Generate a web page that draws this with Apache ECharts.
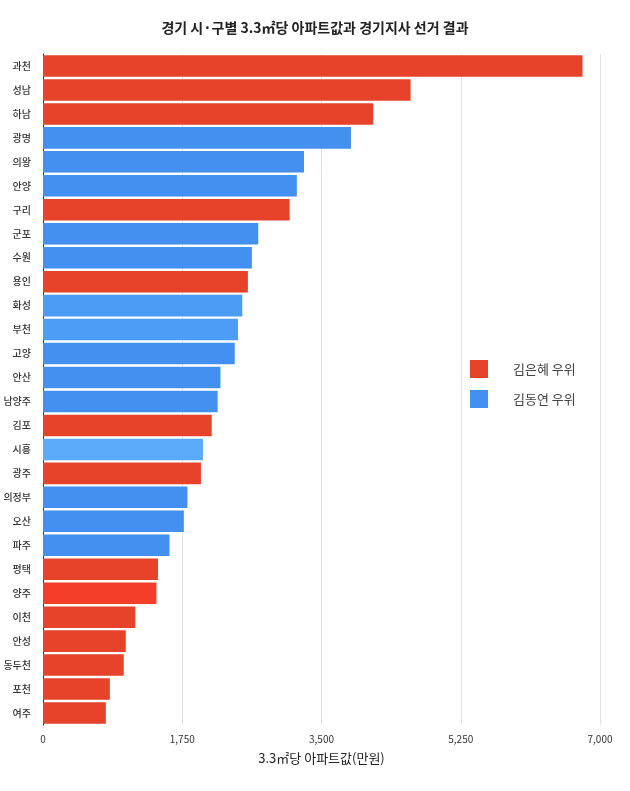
<!DOCTYPE html>
<html>
<head>
<meta charset="utf-8">
<script src="https://cdn.jsdelivr.net/npm/echarts@6/dist/echarts.min.js"></script>
<style>
html,body{margin:0;padding:0;background:#fff;}
#chart{width:630px;height:791px;}
</style>
</head>
<body>
<div id="chart"></div>
<script>
const categories = ['과천','성남','하남','광명','의왕','안양','구리','군포','수원','용인','화성','부천','고양','안산','남양주','김포','시흥','광주','의정부','오산','파주','평택','양주','이천','안성','동두천','포천','여주'];
const values = [6780,4620,4150,3870,3280,3190,3100,2705,2625,2575,2505,2450,2410,2230,2195,2120,2010,1985,1815,1770,1590,1445,1425,1160,1040,1015,840,790];
const winners = ['K','K','K','D','D','D','K','D','D','K','D','D','D','D','D','K','D','K','D','D','D','K','K','K','K','K','K','K'];
const seriesNames = {K:'김은혜 우위', D:'김동연 우위'};
const xTicks = [0,1750,3500,5250,7000];

const RED = '#E7422A', BLUE = '#4390F0';
const shade = {'화성':'#4C9BF4','부천':'#4D9CF5','시흥':'#5BAAF7','양주':'#F53E2A'};

function seriesData(key){
  return values.map((v,i)=>{
    if (winners[i] !== key) return '-';
    const c = shade[categories[i]];
    return c ? {value:v, itemStyle:{color:c}} : v;
  });
}

const chart = echarts.init(document.getElementById('chart'));
chart.setOption({
  animation:false,
  backgroundColor:'#fff',
  title:{
    text:'경기 시·구별 3.3㎡당 아파트값과 경기지사 선거 결과',
    left:'center', top:16,
    textStyle:{fontFamily:'Noto Sans CJK KR', fontSize:14, fontWeight:'bold', color:'#222'}
  },
  legend:{
    orient:'vertical', left:465, top:355,
    itemWidth:18, itemHeight:18, itemGap:12,
    icon:'rect',
    textStyle:{fontFamily:'Noto Sans CJK KR', fontSize:13, color:'#444', padding:[0,0,0,20]},
    data:[seriesNames.K, seriesNames.D]
  },
  grid:{left:43, right:30, top:54, bottom:66, containLabel:false},
  xAxis:{
    type:'value', min:0, max:7000, interval:1750,
    name:'3.3㎡당 아파트값(만원)', nameLocation:'middle', nameGap:27,
    nameTextStyle:{fontFamily:'Noto Sans CJK KR', fontSize:13, color:'#222'},
    axisLine:{show:false}, axisTick:{show:false},
    axisLabel:{fontFamily:'Noto Sans CJK KR', fontSize:10, color:'#333', margin:9,
      formatter:v=>xTicks.includes(v)?v.toLocaleString('en-US'):''},
    splitLine:{show:true, lineStyle:{color:'#e3e3e3', width:1}}
  },
  yAxis:{
    type:'category', data:categories, inverse:true,
    axisLine:{show:true, lineStyle:{color:'#333', width:1}},
    axisTick:{show:false},
    axisLabel:{fontFamily:'Noto Sans CJK KR', fontSize:10, fontWeight:500, color:'#333', margin:12}
  },
  series:[
    {name:seriesNames.K, type:'bar', stack:'a', data:seriesData('K'), itemStyle:{color:RED}, barCategoryGap:'10%'},
    {name:seriesNames.D, type:'bar', stack:'a', data:seriesData('D'), itemStyle:{color:BLUE}, barCategoryGap:'10%'}
  ]
});
</script>
</body>
</html>
